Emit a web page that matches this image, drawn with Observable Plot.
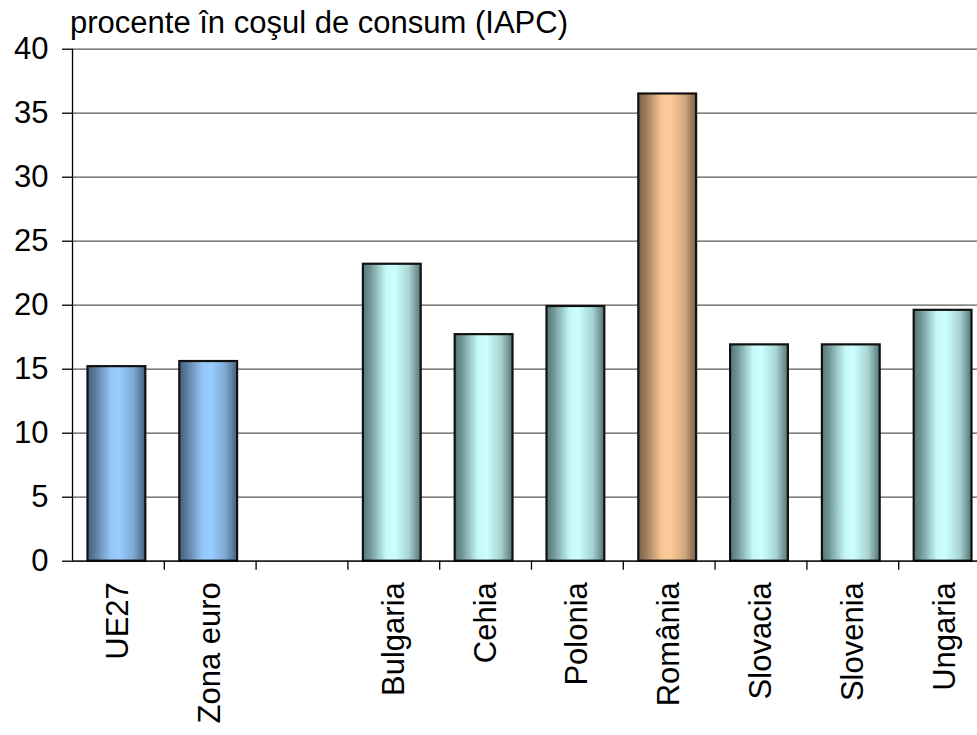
<!DOCTYPE html>
<html>
<head>
<meta charset="utf-8">
<script src="https://cdn.jsdelivr.net/npm/d3@7"></script>
<script src="https://cdn.jsdelivr.net/npm/@observablehq/plot@0.6"></script>
<style>
  body { margin: 0; background: #fff; }
  svg { display: block; }
</style>
</head>
<body>
<div id="chart"></div>
<script>
// Share in the consumer basket (HICP), percent
const categories = ["UE27", "Zona euro", "", "Bulgaria", "Cehia", "Polonia", "România", "Slovacia", "Slovenia", "Ungaria"];
const values = [15.2, 15.6, null, 23.2, 17.7, 19.9, 36.5, 16.9, 16.9, 19.6];
const groups = ["ue", "ue", null, "nou", "nou", "nou", "ro", "nou", "nou", "nou"];
const yTicks = [0, 5, 10, 15, 20, 25, 30, 35, 40];
const title = "procente în coşul de consum (IAPC)";

const data = categories
  .map((category, i) => ({category, value: values[i], group: groups[i]}))
  .filter(d => d.value != null);

const W = 977, H = 735;
const xRange = [72, 990];
const step = (xRange[1] - xRange[0]) / categories.length;

const chart = Plot.plot({
  width: W,
  height: H,
  marginLeft: 72,
  marginRight: 0,
  marginTop: 48.7,
  marginBottom: 174.3,
  style: {fontFamily: "'Liberation Sans', Arial, sans-serif", fontSize: "31px", color: "#000", background: "#fff"},
  x: {domain: categories, range: xRange, padding: 0, round: false, label: null},
  y: {domain: [0, 40], label: null},
  color: {domain: ["ue", "nou", "ro"], range: ["url(#g-ue)", "url(#g-nou)", "url(#g-ro)"]},
  marks: [
    Plot.ruleY(yTicks, {stroke: "#5a5a5a", strokeWidth: 1.2}),
    Plot.barY(data, {x: "category", y: "value", fill: "group", stroke: "#111", strokeWidth: 2.2, insetLeft: 15.5, insetRight: 18.5}),
    // value axis line
    Plot.ruleX([categories[0]], {x: d => d, dx: -step / 2, stroke: "#000", strokeWidth: 1.3}),
    // category axis line and boundary ticks
    Plot.ruleY([0], {stroke: "#000", strokeWidth: 1.3}),
    Plot.ruleX(categories.slice(1), {x: d => d, dx: -step / 2, y1: 0, y2: 0, insetBottom: -9, stroke: "#000", strokeWidth: 1.3}),
    Plot.axisY({ticks: yTicks, tickSize: 10, tickPadding: 14, fontSize: 31, stroke: "#000", strokeWidth: 1.3, label: null}),
    Plot.axisX({tickSize: 0, tickPadding: 21, tickRotate: -90, fontSize: 31, label: null, tickFormat: d => d})
  ]
});

const svg = d3.select(chart);
const defs = svg.insert("defs", ":first-child");
const gradients = {
  "g-ue": [[0, "#44607c"], [0.12, "#5a7a9c"], [0.4, "#95c6f6"], [0.55, "#99ccff"], [0.8, "#7ea8d2"], [1, "#44607c"]],
  "g-nou": [[0, "#567676"], [0.12, "#6e9494"], [0.4, "#c6f8f8"], [0.55, "#ccffff"], [0.8, "#a8d2d2"], [1, "#567474"]],
  "g-ro": [[0, "#7a6046"], [0.12, "#98785a"], [0.4, "#f8c694"], [0.55, "#ffcc99"], [0.8, "#d2a87e"], [1, "#7a6046"]]
};
for (const [id, stops] of Object.entries(gradients)) {
  const g = defs.append("linearGradient").attr("id", id).attr("x1", 0).attr("x2", 1).attr("y1", 0).attr("y2", 0);
  for (const [o, c] of stops) g.append("stop").attr("offset", o).attr("stop-color", c);
}

svg.append("text")
  .attr("x", 70)
  .attr("y", 33)
  .attr("text-anchor", "start")
  .attr("font-family", "'Liberation Sans', Arial, sans-serif")
  .attr("font-size", 31)
  .attr("fill", "#000")
  .text(title);

document.getElementById("chart").append(chart);
</script>
</body>
</html>
